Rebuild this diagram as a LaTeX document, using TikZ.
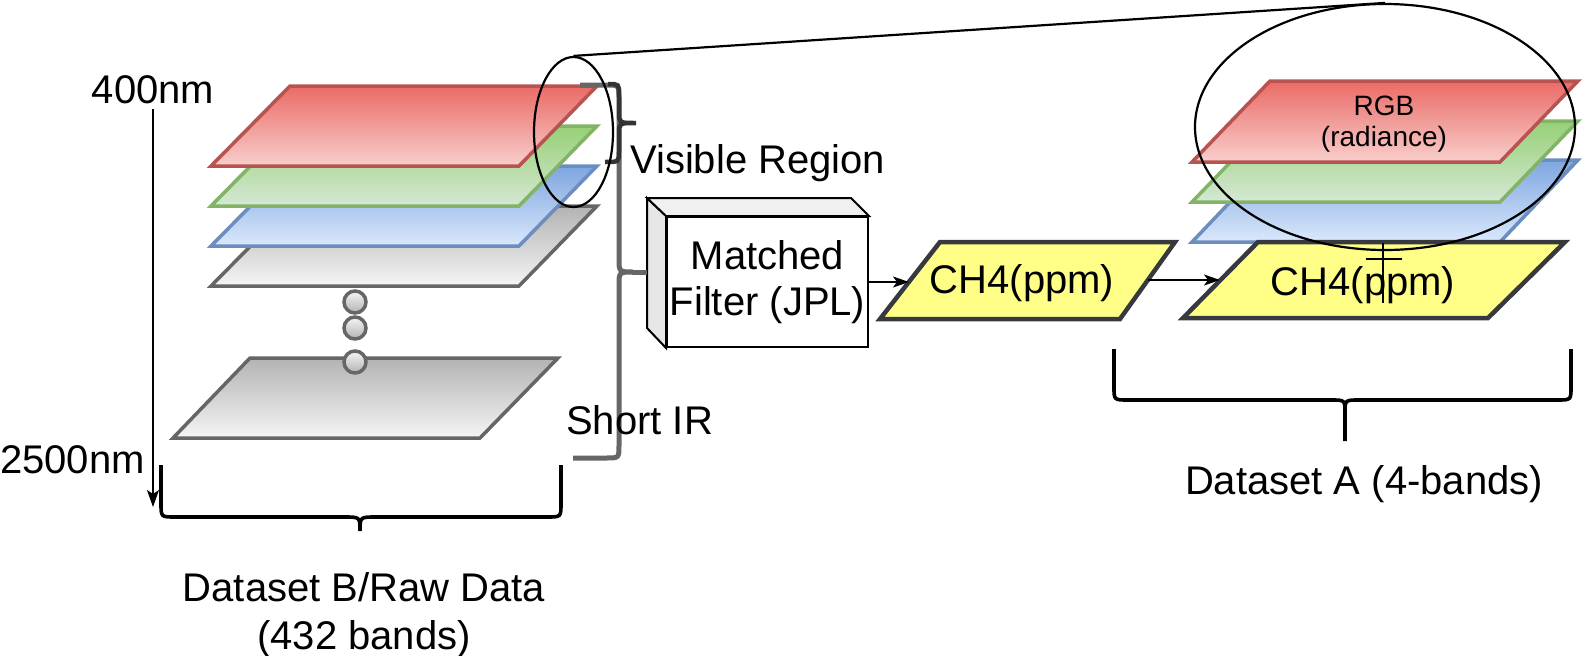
\documentclass[tikz,border=0pt]{standalone}
\usepackage{fontspec}
\setmainfont{Liberation Sans}
\usetikzlibrary{arrows.meta,shapes.geometric}
\definecolor{redT}{HTML}{EA6B66}
\definecolor{redB}{HTML}{F8CECC}
\definecolor{redS}{HTML}{B85450}
\definecolor{grnT}{HTML}{97D077}
\definecolor{grnB}{HTML}{D5E8D4}
\definecolor{grnS}{HTML}{82B366}
\definecolor{bluT}{HTML}{7EA6E0}
\definecolor{bluB}{HTML}{DAE8FC}
\definecolor{bluS}{HTML}{6C8EBF}
\definecolor{gryT}{HTML}{B3B3B3}
\definecolor{gryB}{HTML}{F5F5F5}
\definecolor{gryS}{HTML}{666666}
\definecolor{yelF}{HTML}{FFFF88}
\definecolor{yelS}{HTML}{36393D}
\definecolor{sideL}{HTML}{E6E6E6}
\definecolor{sideT}{HTML}{F0F0F0}
\definecolor{darkB}{HTML}{333333}
\begin{document}
\begin{tikzpicture}[x=1pt,y=-1pt,
  lay/.style={line width=3.5pt, line join=miter},
  redlay/.style={lay, draw=redS, top color=redT, bottom color=redB},
  grnlay/.style={lay, draw=grnS, top color=grnT, bottom color=grnB},
  blulay/.style={lay, draw=bluS, top color=bluT, bottom color=bluB},
  grylay/.style={lay, draw=gryS, top color=gryT, bottom color=gryB},
  yellay/.style={line width=4.5pt, draw=yelS, fill=yelF, line join=miter},
  dotc/.style={circle, draw=gryS, line width=3.5pt, top color=gryB, bottom color=gryT, minimum size=22pt, inner sep=0pt},
  txt/.style={font=\fontsize{40}{46}\selectfont, inner sep=0pt},
  smalltxt/.style={font=\fontsize{28}{31}\selectfont, inner sep=0pt},
  blkbrace/.style={draw=black, line width=3.6pt},
  gbrace/.style={draw=gryS, line width=5pt},
  dbrace/.style={draw=darkB, line width=4.5pt},
  oval/.style={draw=black, line width=2.2pt, ellipse, inner sep=0pt},
  arr/.style={draw=black, line width=1.8pt, -{Stealth[length=16pt,width=11pt,inset=4pt]}},
]
\useasboundingbox (0,0) rectangle (1588,656);

% ---- left stack (Dataset B)
\path[grylay] (211,286) -- (519,286) -- (597,206) -- (290,206) -- cycle;
\path[blulay] (211,246) -- (519,246) -- (597,166) -- (290,166) -- cycle;
\path[grnlay] (211,206) -- (519,206) -- (597,126) -- (290,126) -- cycle;
\path[redlay] (211,166) -- (519,166) -- (597,86) -- (290,86) -- cycle;
\path[grylay] (173,438) -- (480,438) -- (558,358) -- (250,358) -- cycle;
\node[dotc] (d1) at (355,302) {};
\node[dotc] (d2) at (355,328) {};
\node[dotc] (d3) at (355,362) {};

% ---- wavelength axis
\node[txt, anchor=base] (t400) at (153,103) {400nm};
\node[txt, anchor=base] (t2500) at (72.5,473) {2500nm};
\coordinate (axEnd) at (153,507);
\draw[draw=black, line width=1.5pt, -{Stealth[length=17pt,width=12pt,inset=4pt]}] ([yshift=-5pt]t400.south) -- (axEnd);

% ---- Dataset B brace
\path[blkbrace] (161,465) -- (161,503) .. controls (161,517) .. (175,517) -- (344,517)
  .. controls (360,517) .. (360,531) .. controls (360,517) .. (376,517) -- (547,517)
  .. controls (561,517) .. (561,503) -- (561,465);
\node[txt, anchor=base] (dsb1) at (364,601) {Dataset B/Raw Data};
\node[txt, anchor=base] (dsb2) at (364,649) {(432 bands)};

% ---- Matched filter box
\node[draw=black, fill=white, line width=2pt, minimum width=201pt, minimum height=130pt,
      txt, align=center] (mf) at (767.5,282) {Matched\\Filter (JPL)};
\draw[line width=2pt, fill=sideL, line join=miter] (mf.north west) -- ++(-19,-18) -- ++(0,130) -- (mf.south west) -- cycle;
\draw[line width=2pt, fill=sideT, line join=miter] (mf.north west) -- ++(-19,-18) -- ++(204,0) -- (mf.north east) -- cycle;

% ---- gray brace (whole spectrum) and dark brace (visible)
\path[gbrace] (580,85) -- (606,85) .. controls (619,85) .. (619,98) -- (619,258)
  .. controls (619,272) .. (633,272) .. controls (619,272) .. (619,286) -- (619,445)
  .. controls (619,458) .. (606,458) -- (573,458);
\path[gbrace] (632,272) -- ([xshift=-19pt,yshift=10pt]mf.west);
\path[dbrace] (608,84) .. controls (619,84) .. (619,95) -- (619,112)
  .. controls (619,123) .. (636,123) .. controls (619,123) .. (619,134) -- (619,151)
  .. controls (619,162) .. (605,162);
\node[txt, anchor=base west] (vis) at (630,173) {Visible Region};
\node[txt, anchor=base west] (sir) at (566,434) {Short IR};

% ---- CH4 product
\path[yellay] (880,319) -- (1120,319) -- (1175,242) -- (940,242) -- cycle;
\node[txt, anchor=base] (c1) at (1022,293) {CH4(ppm)};
\coordinate (c1L) at (909,282);
\draw[arr] (mf.east) -- (c1L);

% ---- right stack (Dataset A)
\path[blulay] (1192,242) -- (1500,242) -- (1578,160) -- (1270,160) -- cycle;
\path[grnlay] (1192,202) -- (1500,202) -- (1578,121) -- (1270,121) -- cycle;
\path[redlay] (1192,162) -- (1500,162) -- (1578,81) -- (1270,81) -- cycle;
\node[smalltxt, anchor=base] (rgb) at (1384,115) {RGB};
\node[smalltxt, anchor=base] (rad) at (1384,146) {(radiance)};
\path[yellay] (1183,318) -- (1488,318) -- (1565,242) -- (1258,242) -- cycle;
\node[txt, anchor=base] (c2) at (1363,295) {CH4(ppm)};
\coordinate (c1R) at (1148,280);
\coordinate (c2L) at (1220,280);
\draw[arr] (c1R) -- (c2L);

% ---- Dataset A brace
\path[blkbrace] (1114,349) -- (1114,387) .. controls (1114,400) .. (1128,400) -- (1331,400)
  .. controls (1345,400) .. (1345,413) -- (1345,441) (1345,413) .. controls (1345,400) .. (1359,400) -- (1557,400)
  .. controls (1571,400) .. (1571,387) -- (1571,349);
\node[txt, anchor=base] (dsa) at (1364,494) {Dataset A (4-bands)};

% ---- zoom ellipses
\node[oval, minimum width=79pt, minimum height=150pt] (sE) at (573.5,132) {};
\node[oval, minimum width=380pt, minimum height=246pt] (bE) at (1385,127) {};
\draw[line width=2.2pt] (sE.north) -- (bE.north);

% ---- cross
\draw[line width=2.2pt] (1383,243) -- (1383,303);
\draw[line width=2.2pt] (1366,259) -- (1402,259);
\end{tikzpicture}
\end{document}
